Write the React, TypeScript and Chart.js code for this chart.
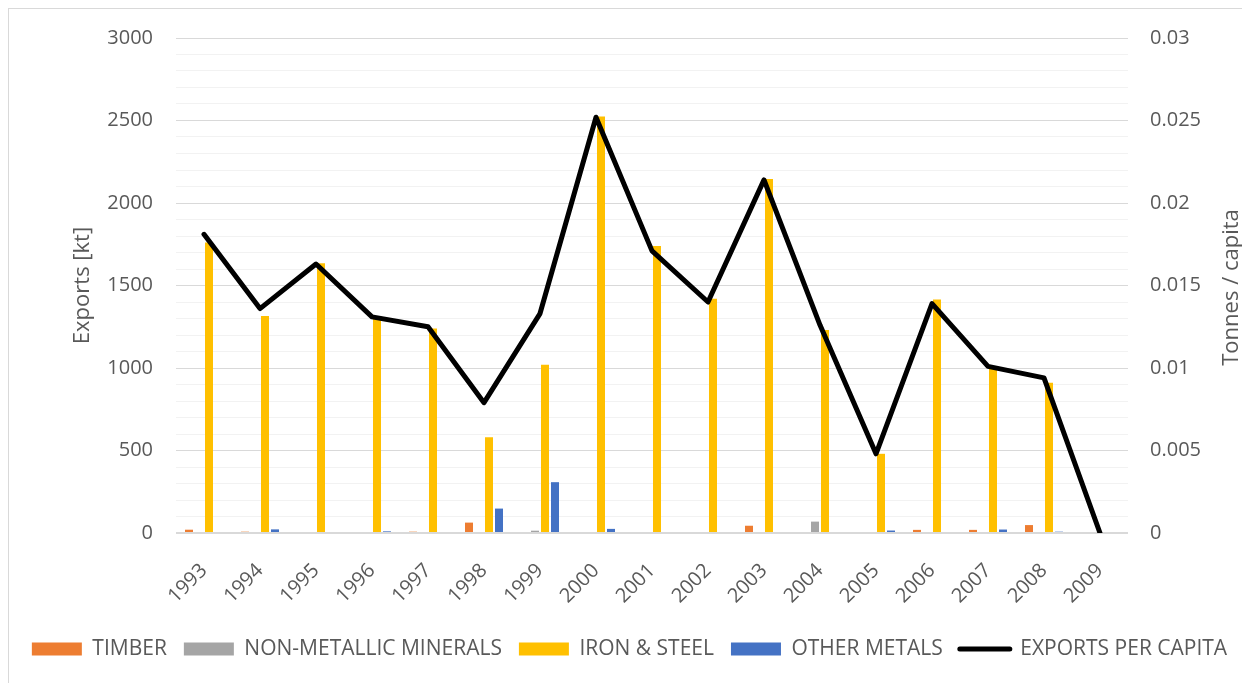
import React, { useEffect, useRef } from "react";
import { Chart, registerables } from "chart.js";

Chart.register(...registerables);

const years = ["1993", "1994", "1995", "1996", "1997", "1998", "1999", "2000", "2001", "2002", "2003", "2004", "2005", "2006", "2007", "2008", "2009"];

// Exports by material group [kt]
const timber = [20, 8, 0, 0, 8, 63, 0, 0, 0, 0, 44, 0, 0, 19, 19, 48, 0];
const nonMetallic = [0, 0, 0, 0, 0, 0, 14, 0, 0, 0, 0, 69, 0, 0, 0, 0, 0];
const ironSteel = [1760, 1315, 1635, 1300, 1240, 580, 1020, 2525, 1740, 1420, 2145, 1230, 480, 1415, 1000, 910, 0];
const otherMetals = [0, 22, 0, 10, 0, 148, 308, 25, 0, 0, 6, 0, 15, 0, 21, 8, 0];

// Exports per capita [tonnes / capita]
const perCapita = [0.0181, 0.0136, 0.0163, 0.0131, 0.0125, 0.0079, 0.0133, 0.0252, 0.0171, 0.014, 0.0214, 0.0126, 0.0048, 0.0139, 0.0101, 0.0094, 0];

const leftTicks = [0, 500, 1000, 1500, 2000, 2500, 3000];
const rightTicks = [0, 0.005, 0.01, 0.015, 0.02, 0.025, 0.03];

const seriesNames = ["TIMBER", "NON-METALLIC MINERALS", "IRON & STEEL", "OTHER METALS", "EXPORTS PER CAPITA"];
const seriesColors = ["#ED7D31", "#A5A5A5", "#FFC000", "#4472C4", "#000000"];

const TEXT = "#595959";
const FONT = "'Open Sans', 'DejaVu Sans', sans-serif";

const rightTitle = {
  id: "rightTitle",
  afterDraw(chart: any) {
    const { ctx, chartArea } = chart;
    ctx.save();
    ctx.translate(1223, (chartArea.top + chartArea.bottom) / 2 + 2);
    ctx.rotate(-Math.PI / 2);
    ctx.font = `22px ${FONT}`;
    ctx.fillStyle = TEXT;
    ctx.textAlign = "center";
    ctx.textBaseline = "middle";
    ctx.fillText("Tonnes / capita", 0, 0);
    ctx.restore();
  },
};

export default function App() {
  const canvasRef = useRef<HTMLCanvasElement>(null);

  useEffect(() => {
    document.body.style.overflow = "hidden";
    const barData = [timber, nonMetallic, ironSteel, otherMetals];
    const datasets: any[] = barData.map((d, i) => ({
      type: "bar",
      label: seriesNames[i],
      data: d,
      backgroundColor: seriesColors[i],
      borderWidth: 0,
      yAxisID: "y",
      order: 1,
      categoryPercentage: 0.714,
      barPercentage: 0.8,
    }));
    datasets.push({
      type: "line",
      label: seriesNames[4],
      data: perCapita,
      borderColor: "#000000",
      backgroundColor: "#000000",
      borderWidth: 5,
      pointRadius: 0,
      tension: 0,
      borderJoinStyle: "round",
      borderCapStyle: "round",
      yAxisID: "y1",
      order: 0,
    });

    const chart = new Chart(canvasRef.current!, {
      type: "bar",
      data: { labels: years, datasets },
      plugins: [rightTitle],
      options: {
        animation: false,
        responsive: false,
        layout: { padding: { top: 29, bottom: 13.5, left: 0, right: 0 } },
        plugins: {
          tooltip: { enabled: false },
          legend: {
            position: "bottom",
            labels: {
              usePointStyle: true,
              pointStyleWidth: 50,
              boxHeight: 13,
              padding: 17,
              color: TEXT,
              font: { family: FONT, size: 21 },
              generateLabels: () =>
                seriesNames.map((name, i) => ({
                  text: name,
                  fillStyle: seriesColors[i],
                  strokeStyle: seriesColors[i],
                  lineWidth: i === 4 ? 5 : 0,
                  lineCap: "round",
                  pointStyle: i === 4 ? "line" : "rect",
                  fontColor: TEXT,
                  hidden: false,
                  datasetIndex: i,
                })),
            },
          },
        },
        scales: {
          x: {
            grid: { display: false },
            border: { display: false },
            ticks: {
              color: TEXT,
              font: { family: FONT, size: 20 },
              minRotation: 45,
              maxRotation: 45,
              padding: 18,
              autoSkip: false,
            },
            afterFit: (s: any) => {
              s.height = 88.5;
            },
          },
          y: {
            position: "left",
            min: 0,
            max: 3000,
            border: { display: false },
            grid: {
              drawTicks: false,
              color: (c: any) => (c.tick.value % 500 === 0 ? "#D9D9D9" : "#F2F2F2"),
              lineWidth: (c: any) => (c.tick.value === 0 ? 2 : 1),
            },
            ticks: {
              stepSize: 100,
              autoSkip: false,
              padding: 23,
              color: TEXT,
              font: { family: FONT, size: 20 },
              callback: (v: any) => (leftTicks.includes(Number(v)) ? String(v) : ""),
            },
            title: {
              display: true,
              text: "Exports [kt]",
              color: TEXT,
              font: { family: FONT, size: 22 },
              padding: { top: 61, bottom: 0 },
            },
            afterFit: (s: any) => {
              s.width = 167;
              s.paddingTop = 0;
              s.paddingBottom = 0;
            },
          },
          y1: {
            position: "right",
            min: 0,
            max: 0.03,
            border: { display: false },
            grid: { display: false, drawTicks: false },
            ticks: {
              stepSize: 0.005,
              autoSkip: false,
              padding: 22,
              color: TEXT,
              font: { family: FONT, size: 20 },
              callback: (v: any) => {
                const n = Number(Number(v).toFixed(3));
                return rightTicks.includes(n) ? String(n) : "";
              },
            },
            afterFit: (s: any) => {
              s.width = 122;
              s.paddingTop = 0;
              s.paddingBottom = 0;
            },
          },
        },
      } as any,
    });
    return () => chart.destroy();
  }, []);

  return (
    <div style={{ borderLeft: "1px solid #D9D9D9", borderTop: "1px solid #D9D9D9", width: 1241, height: 674 }}>
      <canvas ref={canvasRef} width={1241} height={674} style={{ display: "block" }} />
    </div>
  );
}
